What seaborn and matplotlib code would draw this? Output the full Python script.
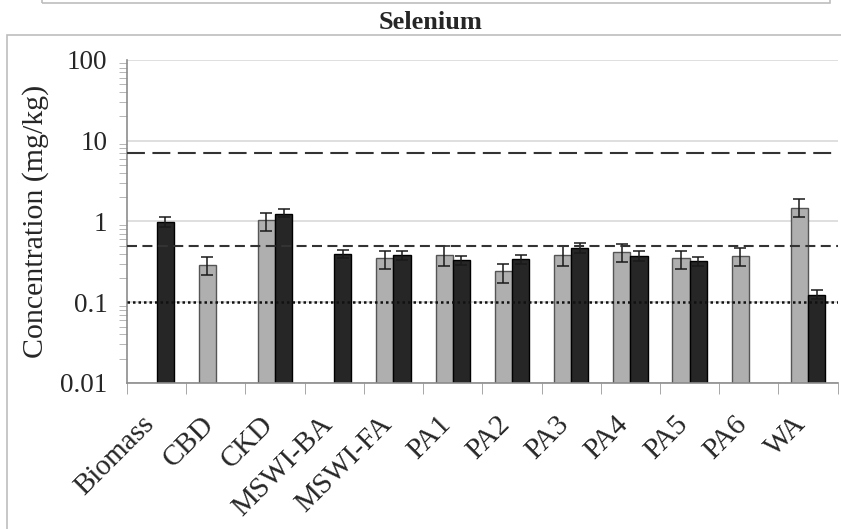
import numpy as np
import pandas as pd
import seaborn as sns
import matplotlib.pyplot as plt
import matplotlib.transforms as mtransforms
from matplotlib.patches import Rectangle
from matplotlib.colors import to_hex

categories = ['Biomass', 'CBD', 'CKD', 'MSWI-BA', 'MSWI-FA', 'PA1', 'PA2',
              'PA3', 'PA4', 'PA5', 'PA6', 'WA']
nan = np.nan
# light grey series
grey_mean = [nan, 0.29, 1.03, nan, 0.35, 0.385, 0.24, 0.385, 0.415, 0.35, 0.37, 1.46]
grey_lo = [nan, 0.22, 0.77, nan, 0.26, 0.28, 0.175, 0.28, 0.31, 0.26, 0.28, 1.12]
grey_hi = [nan, 0.36, 1.28, nan, 0.435, 0.49, 0.30, 0.49, 0.52, 0.43, 0.47, 1.9]
# dark series
black_mean = [0.98, nan, 1.25, 0.40, 0.385, 0.335, 0.34, 0.475, 0.377, 0.325, nan, 0.123]
black_lo = [0.85, nan, 1.12, 0.354, 0.335, 0.29, 0.30, 0.41, 0.325, 0.28, nan, 0.108]
black_hi = [1.13, nan, 1.41, 0.44, 0.43, 0.377, 0.38, 0.535, 0.426, 0.367, nan, 0.14]
series_names = ['Series 1', 'Series 2']
colors = ['#afafaf', '#262626']
edges = ['#555555', '#000000']
# reference limits (mg/kg)
ref_levels = [7.0, 0.5, 0.1]

data = pd.DataFrame({
    'Material': categories * 2,
    'Series': [series_names[0]] * len(categories) + [series_names[1]] * len(categories),
    'Conc': grey_mean + black_mean,
    'lo': grey_lo + black_lo,
    'hi': grey_hi + black_hi,
})

sns.set_style('white')
plt.rcParams['font.family'] = ['Liberation Serif', 'DejaVu Serif']

fig = plt.figure(figsize=(8.41, 5.29), dpi=100)
ax = fig.add_axes([0.151, 0.276, 0.845, 0.611])

sns.barplot(data=data, x='Material', y='Conc', hue='Series', order=categories,
            hue_order=series_names, palette=colors, width=0.58, saturation=1,
            errorbar=None, legend=False, ax=ax, zorder=2)
ax.set_yscale('log')

for bar in ax.patches:
    h = bar.get_height()
    if not np.isfinite(h) or h <= 0:
        continue
    k = 0 if to_hex(bar.get_facecolor()) == colors[0] else 1
    bar.set_edgecolor(edges[k])
    bar.set_linewidth(1.0)
    xc = bar.get_x() + bar.get_width() / 2
    cat = categories[int(round(xc))]
    row = data[(data['Series'] == series_names[k]) & (data['Material'] == cat)].iloc[0]
    ax.errorbar(xc, row['Conc'], yerr=[[row['Conc'] - row['lo']], [row['hi'] - row['Conc']]],
                fmt='none', ecolor='#1a1a1a', elinewidth=1.1, capsize=4, capthick=1.1, zorder=3)

ax.axhline(ref_levels[0], color='#333333', lw=1.5, dashes=(8.6, 3.6), zorder=4)
ax.axhline(ref_levels[1], color='#333333', lw=1.5, dashes=(4.8, 2.6), zorder=4)
ax.axhline(ref_levels[2], color='#111111', lw=1.8, dashes=(1, 1.2), zorder=4)

ax.set_ylim(0.01, 100)
ax.set_xlim(-0.5, len(categories) - 0.5)
ax.set_yticks([0.01, 0.1, 1, 10, 100])
ax.set_yticklabels(['0.01', '0.1', '1', '10', '100'])
ax.yaxis.grid(True, which='major', color='#d9d9d9', lw=1.2, zorder=0)
ax.set_axisbelow(True)
ax.tick_params(axis='y', which='major', length=9, color='#888888', labelsize=19.5, pad=5)
ax.tick_params(axis='y', which='minor', length=6, color='#aaaaaa', left=True)
ax.set_xticks(np.arange(len(categories) + 1) - 0.5, minor=True)
ax.tick_params(axis='x', which='minor', length=8, color='#999999', bottom=True)
ax.tick_params(axis='x', which='major', length=0, labelsize=21, pad=27)
shift = mtransforms.ScaledTranslation(-0.06, 0, fig.dpi_scale_trans)
for lab in ax.get_xticklabels():
    lab.set_rotation(45)
    lab.set_ha('right')
    lab.set_va('center')
    lab.set_rotation_mode('anchor')
    lab.set_transform(lab.get_transform() + shift)
ax.set_xlabel('')
ax.set_ylabel('Concentration (mg/kg)', fontsize=21.5, labelpad=8)
for side in ['top', 'right']:
    ax.spines[side].set_visible(False)
for side in ['left', 'bottom']:
    ax.spines[side].set_color('#8c8c8c')
    ax.spines[side].set_linewidth(1.2)

fig.text(0.512, 0.958, 'Selenium', ha='center', va='center', fontsize=19, fontweight='bold')
fig.patches.append(Rectangle((0.0083, -0.02), 1.1, 0.954, transform=fig.transFigure,
                             fill=False, edgecolor='#bdbdbd', lw=1.2))
fig.patches.append(Rectangle((0.05, 0.994), 0.937, 0.1, transform=fig.transFigure,
                             fill=False, edgecolor='#bdbdbd', lw=1.2))

fig.savefig('out.png', dpi=100)
